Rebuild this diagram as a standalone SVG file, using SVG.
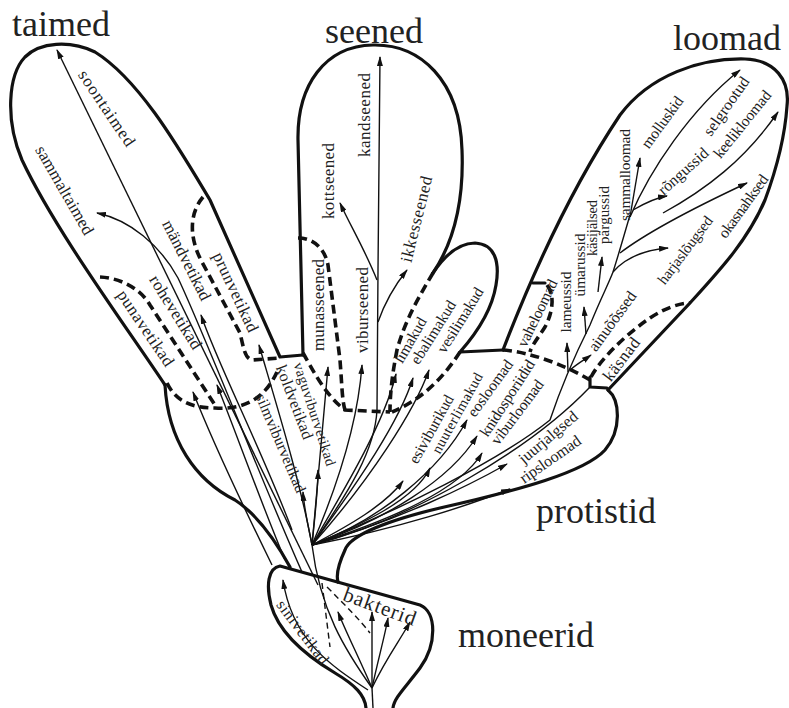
<svg xmlns="http://www.w3.org/2000/svg" width="789" height="708" viewBox="0 0 789 708">
<style>
.ol{fill:none;stroke:#111;stroke-width:3.2;stroke-linecap:round;stroke-linejoin:round}
.da{fill:none;stroke:#111;stroke-width:3.6;stroke-dasharray:9 5}
.ln{fill:none;stroke:#111;stroke-width:1.4}
.ar{fill:none;stroke:#111;stroke-width:1.4;marker-end:url(#ah)}
.td{fill:none;stroke:#111;stroke-width:1.4;stroke-dasharray:6 4}
.t{font-family:"Liberation Serif","Times New Roman",serif;fill:#222;text-anchor:middle}
.big{font-family:"Liberation Serif","Times New Roman",serif;fill:#222;font-size:36px}
</style>
<defs>
<marker id="ah" viewBox="0 0 10 6" refX="9" refY="3" markerWidth="10" markerHeight="6" markerUnits="userSpaceOnUse" orient="auto"><path d="M0,0 L10,3 L0,6 z" fill="#111"/></marker>
</defs>
<rect width="789" height="708" fill="#fff"/>

<g id="outlines">
<path class="ol" d="M165,385 C125,325 55,230 22,160 C5,120 8,75 25,57 C40,42 70,40 95,52 C140,80 180,150 210,200 L280,357 L303,355"/>
<path class="ol" d="M303,355 L298,140 C297,85 325,46 373,45 C420,44 460,80 462,150 C464,200 455,240 433,273"/>
<path class="ol" d="M433,273 C445,255 460,243 475,243 C495,244 500,262 496,285 C492,310 475,335 460,352 L503,350"/>
<path class="ol" d="M503,350 C530,280 570,190 620,115 C650,75 700,58 745,59 C775,60 790,80 787,106 C785,135 778,165 765,200 C748,240 720,270 690,303 L608,390"/>
<path class="ol" d="M608,390 C620,400 622,430 605,450 C585,472 520,490 440,508 C390,520 350,535 345,550 C338,565 336,575 338,582"/>
<path class="ol" d="M165,385 C168,440 195,480 235,500 C258,515 278,545 290,567"/>
<path class="ol" d="M366,708 C365,695 355,685 335,673 C300,652 278,630 271,605 C266,585 268,568 280,566 L420,605 C437,612 437,645 420,668 C405,688 394,698 393,708"/>
<path class="ol" d="M533,283 L545,283"/>
<path class="ol" d="M590,377 L590,387 L607,388"/>
</g>

<g id="borders">
<path class="da" d="M100,277 C120,278 140,288 150,305 L215,405"/>
<path class="da" d="M167,383 C175,400 190,408 215,408 C245,410 265,398 277,372"/>
<path class="da" d="M203,197 C188,215 190,240 202,262 L240,333 C244,350 245,358 252,360 L280,358"/>
<path class="da" d="M298,238 C315,238 325,250 328,265 L340,360 C342,385 342,400 345,410"/>
<path class="da" d="M303,353 C313,370 325,395 345,410 L390,412"/>
<path class="da" d="M433,273 C420,295 405,320 397,350 C392,375 390,395 390,412"/>
<path class="da" d="M460,352 C445,375 425,398 392,412"/>
<path class="da" d="M503,350 C530,352 565,365 590,380"/>
<path class="da" d="M591,377 C600,360 625,335 650,318 C665,308 680,303 690,303"/>
<path class="da" d="M547,285 C555,295 553,312 545,327 C538,338 532,345 530,352"/>
</g>

<g id="connectors">
<path class="ar" d="M318,585 L57,50"/>
<path class="ar" d="M302,572 C262,482 205,335 178,278 C160,245 130,220 97,213"/>
<path class="ar" d="M292,530 C262,450 218,365 201,315"/>
<path class="ar" d="M285,560 C260,500 235,430 217,385"/>
<path class="ar" d="M272,565 C245,510 212,440 193,392"/>
<path class="ar" d="M312,545 C300,480 275,400 259,345"/>
<path class="ar" d="M312,545 C308,525 304,508 303,492"/>
<path class="ar" d="M312,545 C315,515 318,490 318,470"/>
<path class="ar" d="M312,545 C318,480 324,410 328,367"/>
<path class="ar" d="M312,545 C340,480 358,420 362,365"/>
<path class="ar" d="M312,545 C350,490 375,450 377,410 L378,270 L380,57"/>
<path class="ar" d="M377,280 C365,250 350,225 340,203"/>
<path class="ar" d="M378,322 C385,302 395,285 407,270"/>
<path class="ar" d="M312,545 C350,480 385,420 396,374"/>
<path class="ar" d="M312,545 C360,480 400,420 413,378"/>
<path class="ar" d="M312,545 C370,480 415,410 429,370"/>
<path class="ar" d="M312,545 C350,525 385,505 403,481"/>
<path class="ar" d="M312,545 C360,525 415,500 430,468"/>
<path class="ar" d="M312,545 C380,520 440,470 467,420"/>
<path class="ar" d="M312,545 C385,520 450,480 477,436"/>
<path class="ar" d="M312,545 C390,520 460,490 482,453"/>
<path class="ar" d="M312,545 C400,520 470,485 507,464"/>
<path class="ar" d="M312,545 C400,528 470,505 510,489"/>
<path class="ln" d="M312,545 C410,520 530,450 590,387"/>
<path class="ln" d="M312,545 C400,510 500,460 550,420 C560,390 575,355 590,325 C600,300 608,285 613,272 C620,250 625,232 630,215"/>
<path class="ar" d="M630,217 C650,170 690,110 740,70"/>
<path class="ar" d="M630,217 L640,158"/>
<path class="ar" d="M633,210 C645,203 655,198 667,196"/>
<path class="ar" d="M613,272 C625,258 645,250 668,248"/>
<path class="ar" d="M620,253 C650,230 700,205 747,183"/>
<path class="ar" d="M663,213 C705,190 745,160 778,112"/>
<path class="ar" d="M598,292 L602,257"/>
<path class="ar" d="M586,334 L584,307"/>
<path class="ar" d="M568,372 L567,343"/>
<path class="ar" d="M570,370 C578,363 584,360 591,355"/>
<path class="ln" d="M373,708 L372,688"/>
<path class="ar" d="M372,688 C360,660 345,630 338,612"/>
<path class="ar" d="M372,688 L372,612"/>
<path class="ar" d="M372,688 C378,660 385,635 388,618"/>
<path class="ar" d="M372,688 C385,660 400,640 410,622"/>
<path class="ln" d="M372,688 C345,650 320,610 312,545"/>
<path class="ar" d="M368,690 C330,665 292,640 283,580"/>
<path class="td" d="M322,583 L330,647"/>
<path class="td" d="M327,587 C345,605 360,620 370,633"/>
</g>

<g id="labels">
<text class="big" x="12" y="36">taimed</text>
<text class="big" x="325" y="43">seened</text>
<text class="big" x="673" y="50">loomad</text>
<text class="big" x="536" y="523">protistid</text>
<text class="big" x="458" y="647">moneerid</text>

<g class="t">
<text transform="translate(107,108) rotate(56)" dy=".35em" font-size="17" textLength="88">soontaimed</text>
<text transform="translate(65,190) rotate(60)" dy=".35em" font-size="17" textLength="100">sammaltaimed</text>
<text transform="translate(187,260) rotate(63)" dy=".35em" font-size="17" textLength="88">mändvetikad</text>
<text transform="translate(236,292) rotate(65)" dy=".35em" font-size="17" textLength="86">prunvetikad</text>
<text transform="translate(176,312) rotate(58)" dy=".35em" font-size="17" textLength="84">rohevetikad</text>
<text transform="translate(146,328) rotate(56)" dy=".35em" font-size="17" textLength="88">punavetikad</text>
<text transform="translate(295,402) rotate(69)" dy=".35em" font-size="16" textLength="78">koldvetikad</text>
<text transform="translate(315,414) rotate(72)" dy=".35em" font-size="14.5" textLength="108">vaguviburvetikad</text>
<text transform="translate(281,443) rotate(67)" dy=".35em" font-size="15.5" textLength="106">silmviburvetikad</text>
<text transform="translate(318,305) rotate(-90)" dy=".35em" font-size="17" textLength="92">munasseened</text>
<text transform="translate(362,310) rotate(-90)" dy=".35em" font-size="17" textLength="86">viburseened</text>
<text transform="translate(328,181) rotate(-90)" dy=".35em" font-size="17" textLength="76">kottseened</text>
<text transform="translate(364,115) rotate(-90)" dy=".35em" font-size="17" textLength="84">kandseened</text>
<text transform="translate(416,219) rotate(-76)" dy=".35em" font-size="17" textLength="88">ikkesseened</text>
<text transform="translate(410,340) rotate(-60)" dy=".35em" font-size="15.5" textLength="50">limakud</text>
<text transform="translate(433,332) rotate(-58)" dy=".35em" font-size="15.5" textLength="72">ebalimakud</text>
<text transform="translate(460,320) rotate(-58)" dy=".35em" font-size="15.5" textLength="74">vesilimakud</text>
<text transform="translate(537,313) rotate(-64)" dy=".35em" font-size="15.5" textLength="73">vaheloomad</text>
<text transform="translate(431,429) rotate(-61)" dy=".35em" font-size="15.5" textLength="76">esiviburikud</text>
<text transform="translate(457,413) rotate(-61)" dy=".35em" font-size="14.5" textLength="90">nuuterlimakud</text>
<text transform="translate(490,388) rotate(-54)" dy=".35em" font-size="15.5" textLength="66">eosloomad</text>
<text transform="translate(507,398) rotate(-57)" dy=".35em" font-size="15.5" textLength="88">knidosporiidid</text>
<text transform="translate(517,412) rotate(-53)" dy=".35em" font-size="15.5" textLength="77">viburloomad</text>
<text transform="translate(548,437) rotate(-40)" dy=".35em" font-size="16" textLength="72">juurjalgsed</text>
<text transform="translate(550,459) rotate(-35)" dy=".35em" font-size="16" textLength="71">ripsloomad</text>
<text transform="translate(621,359) rotate(-53)" dy=".35em" font-size="17" textLength="50">käsnad</text>
<text transform="translate(612,321) rotate(-54)" dy=".35em" font-size="16" textLength="70">ainuõõssed</text>
<text transform="translate(566,302) rotate(-90)" dy=".35em" font-size="15.5" textLength="61">lameussid</text>
<text transform="translate(580,265) rotate(-90)" dy=".35em" font-size="15.5" textLength="63">ümarussid</text>
<text transform="translate(592,228) rotate(-90)" dy=".35em" font-size="14.5" textLength="56">käsijälsed</text>
<text transform="translate(604,215) rotate(-90)" dy=".35em" font-size="15" textLength="58">pärgussid</text>
<text transform="translate(625,175) rotate(-90)" dy=".35em" font-size="15.5" textLength="92">sammalloomad</text>
<text transform="translate(662,122) rotate(-54)" dy=".35em" font-size="15.5" textLength="60">molluskid</text>
<text transform="translate(726,106) rotate(-55)" dy=".35em" font-size="16" textLength="68">selgrootud</text>
<text transform="translate(683,171) rotate(-42)" dy=".35em" font-size="16" textLength="62">rõngussid</text>
<text transform="translate(742,124) rotate(-51)" dy=".35em" font-size="15.5" textLength="82">keelikloomad</text>
<text transform="translate(685,250) rotate(-53)" dy=".35em" font-size="15" textLength="81">harjaslõugsed</text>
<text transform="translate(743,206) rotate(-54)" dy=".35em" font-size="15.5" textLength="74">okasnahksed</text>
<text transform="translate(303,632) rotate(53)" dy=".35em" font-size="16" textLength="76">sinivetikad</text>
<text transform="translate(380,606) rotate(20)" dy=".35em" font-size="21" textLength="76">bakterid</text>
</g>
</g>
</svg>
